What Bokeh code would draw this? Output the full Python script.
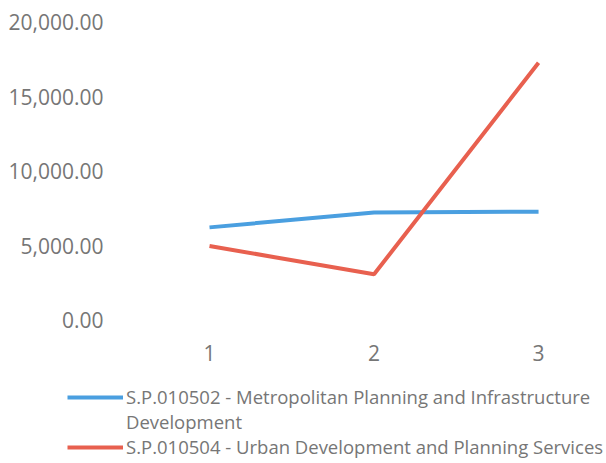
from bokeh.plotting import figure
from bokeh.models import Legend, LegendItem, FixedTicker, NumeralTickFormatter
from bokeh.layouts import column
from bokeh.embed import file_html
from bokeh.resources import INLINE

periods = [1, 2, 3]
metro_planning = [6250, 7250, 7300]
urban_dev = [5000, 3100, 17300]
series_names = [
    "S.P.010502 - Metropolitan Planning and Infrastructure",
    "Development",
    "S.P.010504 - Urban Development and Planning Services",
]
y_ticks = [0, 5000, 10000, 15000, 20000]

FONT = "Open Sans"
TXT = "#767676"
BLUE = "#4a9fe0"
RED = "#e8604f"

p = figure(width=606, height=375, output_backend="svg", toolbar_location=None,
           x_range=(0.459, 3.413), y_range=(-1007, 20805),
           min_border_left=120, min_border_right=0, min_border_top=10, min_border_bottom=40)
p.frame_align = False
p.outline_line_color = None
p.xgrid.visible = False
p.ygrid.visible = False

p.line(periods, metro_planning, line_color=BLUE, line_width=4)
p.line(periods, urban_dev, line_color=RED, line_width=4)

for ax in (p.xaxis[0], p.yaxis[0]):
    ax.axis_line_color = None
    ax.major_tick_line_color = None
    ax.minor_tick_line_color = None
    ax.major_label_text_font = FONT
    ax.major_label_text_color = TXT
    ax.major_label_text_font_size = "21px"

p.yaxis[0].ticker = FixedTicker(ticks=y_ticks)
p.yaxis[0].formatter = NumeralTickFormatter(format="0,0.00")
p.yaxis[0].major_label_standoff = 11
p.xaxis[0].ticker = FixedTicker(ticks=periods)
p.xaxis[0].major_label_standoff = 3

# legend strip (same series drawn out of view, legend shown in frame)
p2 = figure(width=606, height=88, output_backend="svg", toolbar_location=None,
            x_range=(100, 101), y_range=(0, 1), x_axis_location=None, y_axis_location=None,
            min_border=0)
p2.frame_align = False
p2.outline_line_color = None
p2.xgrid.visible = False
p2.ygrid.visible = False
lr1 = p2.line(periods, metro_planning, line_color=BLUE, line_width=4)
lr_blank = p2.line(periods, metro_planning, line_alpha=0)
lr2 = p2.line(periods, urban_dev, line_color=RED, line_width=4)

legend = Legend(items=[LegendItem(label=series_names[0], renderers=[lr1]),
                       LegendItem(label=series_names[1], renderers=[lr_blank]),
                       LegendItem(label=series_names[2], renderers=[lr2])],
                location=(67, 4), orientation="vertical",
                label_text_font=FONT, label_text_color=TXT,
                label_text_font_size="18.5px", glyph_width=56, glyph_height=20,
                label_standoff=3, spacing=0, padding=0, margin=0,
                border_line_color=None, background_fill_alpha=0)
p2.add_layout(legend, "center")

open("out.html", "w").write(file_html(column(p, p2), INLINE))
